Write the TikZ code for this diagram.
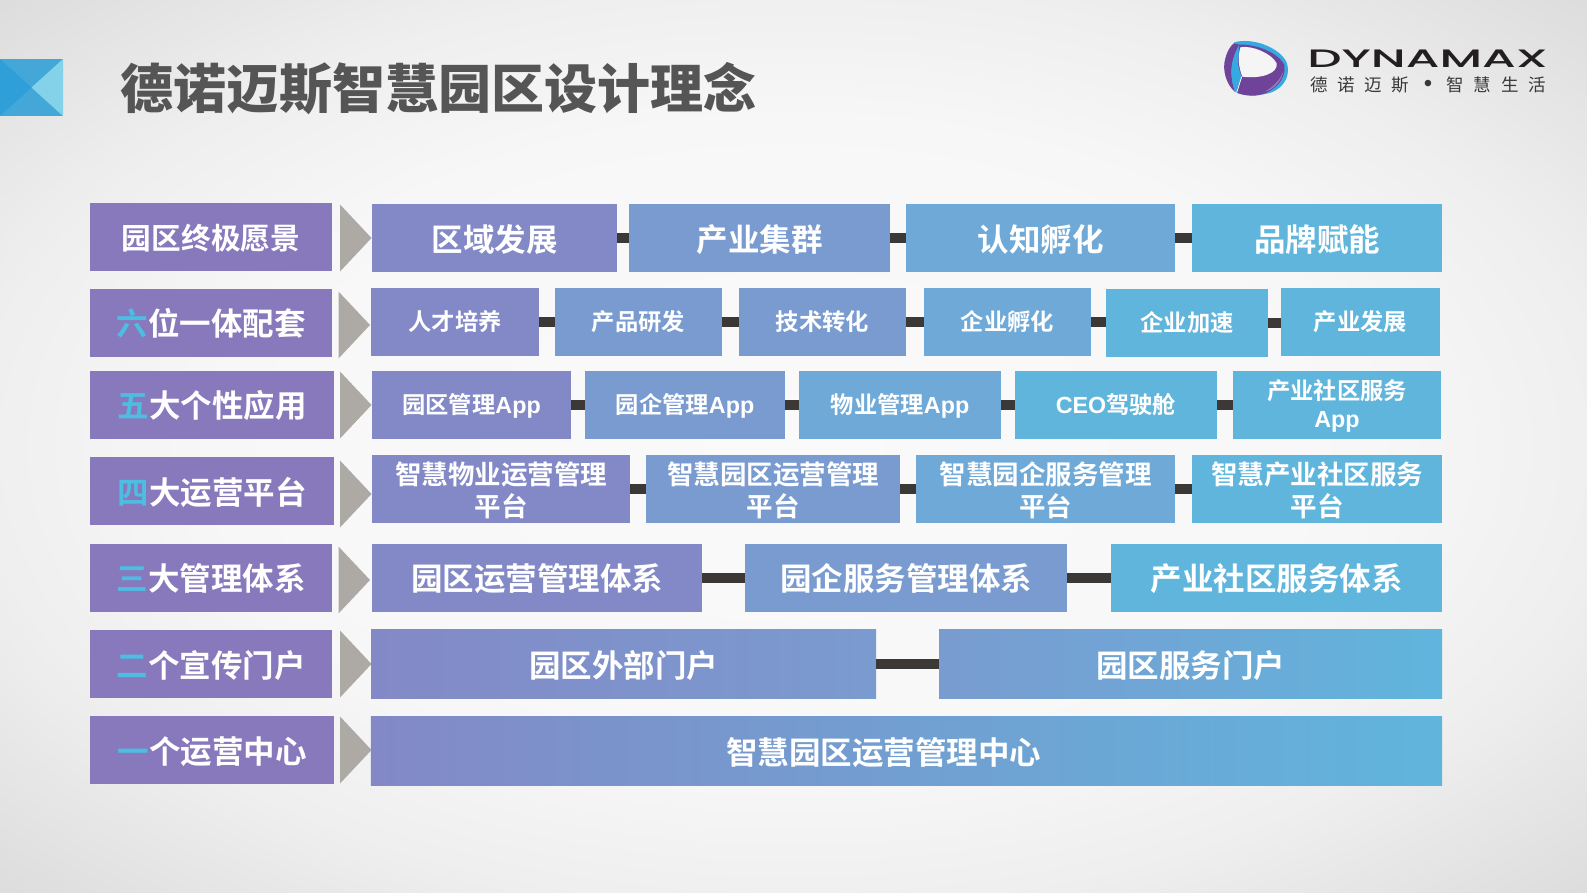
\documentclass[tikz,border=0pt]{standalone}
\usepackage{fontspec}
\setmainfont{Noto Sans CJK SC}[BoldFont=* Bold]
\newfontfamily\cjkblack{Noto Sans CJK SC Black}
\newfontfamily\latf{Liberation Sans}[BoldFont=* Bold]
\newfontfamily\wordmark{Poppins}[UprightFont=* Medium]
\definecolor{cA}{HTML}{8389C6}
\definecolor{cB}{HTML}{7A9BD0}
\definecolor{cC}{HTML}{6FA9D7}
\definecolor{cD}{HTML}{60B5DD}
\definecolor{side}{HTML}{8779BC}
\definecolor{arrowgrey}{HTML}{ADA9A5}
\definecolor{bar}{HTML}{3B3836}
\definecolor{firstch}{HTML}{4DBDE2}
\definecolor{titlecol}{HTML}{555555}
\definecolor{mkA}{HTML}{2F9FD9}
\definecolor{mkB}{HTML}{43A8D8}
\definecolor{mkC}{HTML}{84D2E9}
\definecolor{lgP}{HTML}{6F4399}
\definecolor{lgPl}{HTML}{9A78B8}
\definecolor{lgB}{HTML}{36A9E1}
\definecolor{wm}{HTML}{231F20}
\pgfdeclareradialshading{bgshade}{\pgfpoint{0bp}{0bp}}{
 rgb(0bp)=(.98,.98,.98); rgb(18bp)=(.97,.97,.97); rgb(26bp)=(.935,.935,.935);
 rgb(36bp)=(.86,.86,.86); rgb(50bp)=(.86,.86,.86)}
\newcommand\fsz[1]{\fontsize{#1bp}{#1bp}\selectfont}
\newcommand\rlower{0bp}
\newcommand\bx[7][]{%
 \pgfmathsetmacro\cx{(#3+#5)/2}\pgfmathsetmacro\cy{(#4+#6)/2}%
 \pgfmathsetmacro\ww{#5-#3}\pgfmathsetmacro\hh{#6-#4}%
 \node[boxn,#1,minimum width=\ww bp,minimum height=\hh bp] (#2) at (\cx,\cy) {#7};}
\tikzset{
 lowertext/.code={\renewcommand\rlower{#1}},
 boxn/.style={rectangle,inner sep=0pt,outer sep=0pt,text=white,font=\bfseries,align=center,
   execute at begin node={\rule{0pt}{\dimexpr1.1em+2\dimexpr\rlower\relax\relax}},
   execute at end node={\rule[-.24em]{0pt}{0pt}}},
 fA/.style={fill=cA},fB/.style={fill=cB},fC/.style={fill=cC},fD/.style={fill=cD},
 sidebox/.style={fill=side,font=\bfseries\fsz{31.5}},
 sidefirst/.style={fill=side,font=\bfseries\fsz{29.7}},
 conn/.style={draw=bar,line width=10bp},
 tri/.style={fill=arrowgrey},
 tA/.style={font=\bfseries\fsz{31.5}},
 tB/.style={font=\bfseries\fsz{23.3},lowertext=-1.5bp},
 tC/.style={font=\bfseries\fsz{26.5}},
}
\newcommand\fc[1]{\textcolor{firstch}{#1}}
\newcommand\arw[2]{\fill[tri] (#1,#2-33.5) -- (#1+31.5,#2) -- (#1,#2+33.5) -- cycle;}
\newcommand\lk[2]{\draw[conn] (#1.east) -- (#1.east -| #2.west);}
\newcommand\twoline[2]{\rule{0pt}{29.5bp}#1\\[5.5bp]#2}
\begin{document}
\begin{tikzpicture}[x=1bp,y=-1bp]
\useasboundingbox (0,0) rectangle (1587,892);
\shade[shading=bgshade] (0,0) rectangle (1587,892);
% corner mark
\fill[mkB] (0,59) rectangle (63,116);
\fill[mkA] (0,59) -- (31.5,87.5) -- (0,116) -- cycle;
\fill[mkC] (63,59) -- (31.5,87.5) -- (63,116) -- cycle;
% title
\node[text=titlecol,inner sep=0pt] (title) at (438.5,89) {\cjkblack\fsz{53}德诺迈斯智慧园区设计理念};
% logo
\begin{scope}[shift={(1215,30)},x=.3333bp,y=-.3333bp]
 \fill[lgB] (58,37) .. controls (110,22) and (190,50) .. (214,95)
   .. controls (228,130) and (212,170) .. (170,187)
   .. controls (130,200) and (85,198) .. (62,187)
   .. controls (40,150) and (40,80) .. (58,37) -- cycle;
 \fill[lgP] (72,44) .. controls (115,42) and (185,62) .. (208,105)
   .. controls (215,150) and (175,188) .. (128,196)
   .. controls (105,199) and (85,196) .. (66,188) -- cycle;
 \fill[lgPl] (150,185) .. controls (180,178) and (200,150) .. (205,125)
   .. controls (195,150) and (175,170) .. (150,185) -- cycle;
 \fill[lgP] (56,40) -- (72,44) .. controls (50,85) and (40,130) .. (60,186)
   .. controls (35,165) and (20,120) .. (31,85) .. controls (36,65) and (45,50) .. (56,40) -- cycle;
 \fill[lgB] (73,47) .. controls (48,85) and (40,135) .. (62,186) -- (80,140)
   .. controls (67,110) and (65,80) .. (73,47) -- cycle;
 \fill[black!4!white] (76,52) .. controls (110,45) and (170,70) .. (185,100)
   .. controls (190,130) and (140,147) .. (82,140) .. controls (70,110) and (68,80) .. (76,52) -- cycle;
 \draw[white,line width=.8bp] (80,140) -- (65,188);
\end{scope}
\node[text=wm,inner sep=0pt,anchor=west,xscale=2.015,yscale=1.05] (brand) at (1307,58.5) {\wordmark\fsz{24}DYNAMAX};
\node[text=black!78,inner sep=0pt,anchor=west] (slogan) at (1310,85) {\fsz{17.5}德\hspace{9.7bp}诺\hspace{9.7bp}迈\hspace{9.7bp}斯\hspace{14.5bp}{\latf\fsz{24}\textbullet}\hspace{14.5bp}智\hspace{9.7bp}慧\hspace{9.7bp}生\hspace{9.7bp}活};
% left column
\bx[sidefirst]{s1}{90}{203}{332}{271}{园区终极愿景}
\bx[sidebox,lowertext=-1bp]{s2}{90}{289}{332}{357}{\fc{六}位一体配套}
\bx[sidebox,lowertext=-1bp]{s3}{90}{371}{334}{439}{\fc{五}大个性应用}
\bx[sidebox]{s4}{90}{457}{334}{525}{\fc{四}大运营平台}
\bx[sidebox,lowertext=-1bp]{s5}{90}{544}{332}{612}{\fc{三}大管理体系}
\bx[sidebox]{s6}{90}{630}{332}{698}{\fc{二}个宣传门户}
\bx[sidebox]{s7}{90}{716}{334}{784}{\fc{一}个运营中心}
% chevrons
\arw{340}{238} \arw{338.5}{325} \arw{340}{405} \arw{340}{494}
\arw{338.5}{580} \arw{340}{664} \arw{340}{750}
% row 1
\bx[fA,tA]{a1}{372}{204}{617}{272}{区域发展}
\bx[fB,tA]{a2}{629}{204}{890}{272}{产业集群}
\bx[fC,tA]{a3}{906}{204}{1175}{272}{认知孵化}
\bx[fD,tA]{a4}{1192}{204}{1442}{272}{品牌赋能}
\lk{a1}{a2}\lk{a2}{a3}\lk{a3}{a4}
% row 2
\bx[fA,tB]{b1}{371}{288}{539}{356}{人才培养}
\bx[fB,tB]{b2}{555}{288}{722}{356}{产品研发}
\bx[fB,tB]{b3}{739}{288}{906}{356}{技术转化}
\bx[fC,tB]{b4}{924}{288}{1091}{356}{企业孵化}
\bx[fD,tB]{b5}{1106}{289}{1268}{357}{企业加速}
\bx[fD,tB]{b6}{1281}{288}{1440}{356}{产业发展}
\lk{b1}{b2}\lk{b2}{b3}\lk{b3}{b4}\lk{b4}{b5}
\draw[conn] (b5.east) -- (b5.east -| b6.west);
% row 3
\bx[fA,tB]{c1}{372}{371}{571}{439}{园区管理{\latf App}}
\bx[fB,tB]{c2}{585}{371}{785}{439}{园企管理{\latf App}}
\bx[fC,tB]{c3}{799}{371}{1001}{439}{物业管理{\latf App}}
\bx[fD,tB]{c4}{1015}{371}{1217}{439}{{\latf CEO}驾驶舱}
\bx[fD,tB]{c5}{1233}{371}{1441}{439}{\rule{0pt}{23bp}产业社区服务\\[5bp]{\latf App}}
\lk{c1}{c2}\lk{c2}{c3}\lk{c3}{c4}\lk{c4}{c5}
% row 4
\bx[fA,tC]{d1}{372}{455}{630}{523}{\twoline{智慧物业运营管理}{平台}}
\bx[fB,tC]{d2}{646}{455}{900}{523}{\twoline{智慧园区运营管理}{平台}}
\bx[fC,tC]{d3}{916}{455}{1175}{523}{\twoline{智慧园企服务管理}{平台}}
\bx[fD,tC]{d4}{1192}{455}{1442}{523}{\twoline{智慧产业社区服务}{平台}}
\lk{d1}{d2}\lk{d2}{d3}\lk{d3}{d4}
% row 5
\bx[fA,tA,lowertext=-1bp]{e1}{372}{544}{702}{612}{园区运营管理体系}
\bx[fB,tA,lowertext=-1bp]{e2}{745}{544}{1067}{612}{园企服务管理体系}
\bx[fD,tA,lowertext=-1bp]{e3}{1111}{544}{1442}{612}{产业社区服务体系}
\lk{e1}{e2}\lk{e2}{e3}
% row 6
\bx[left color=cA,right color=cB,tA]{f1}{371}{629}{876}{698}{园区外部门户}
\bx[left color=cB,right color=cD,tA]{f2}{939}{629}{1442}{698}{园区服务门户}
\lk{f1}{f2}
% row 7
\bx[left color=cA,middle color=cB,right color=cD,tA]{g1}{371}{716}{1442}{785}{\hspace*{-46bp}智慧园区运营管理中心}
\end{tikzpicture}
\end{document}
